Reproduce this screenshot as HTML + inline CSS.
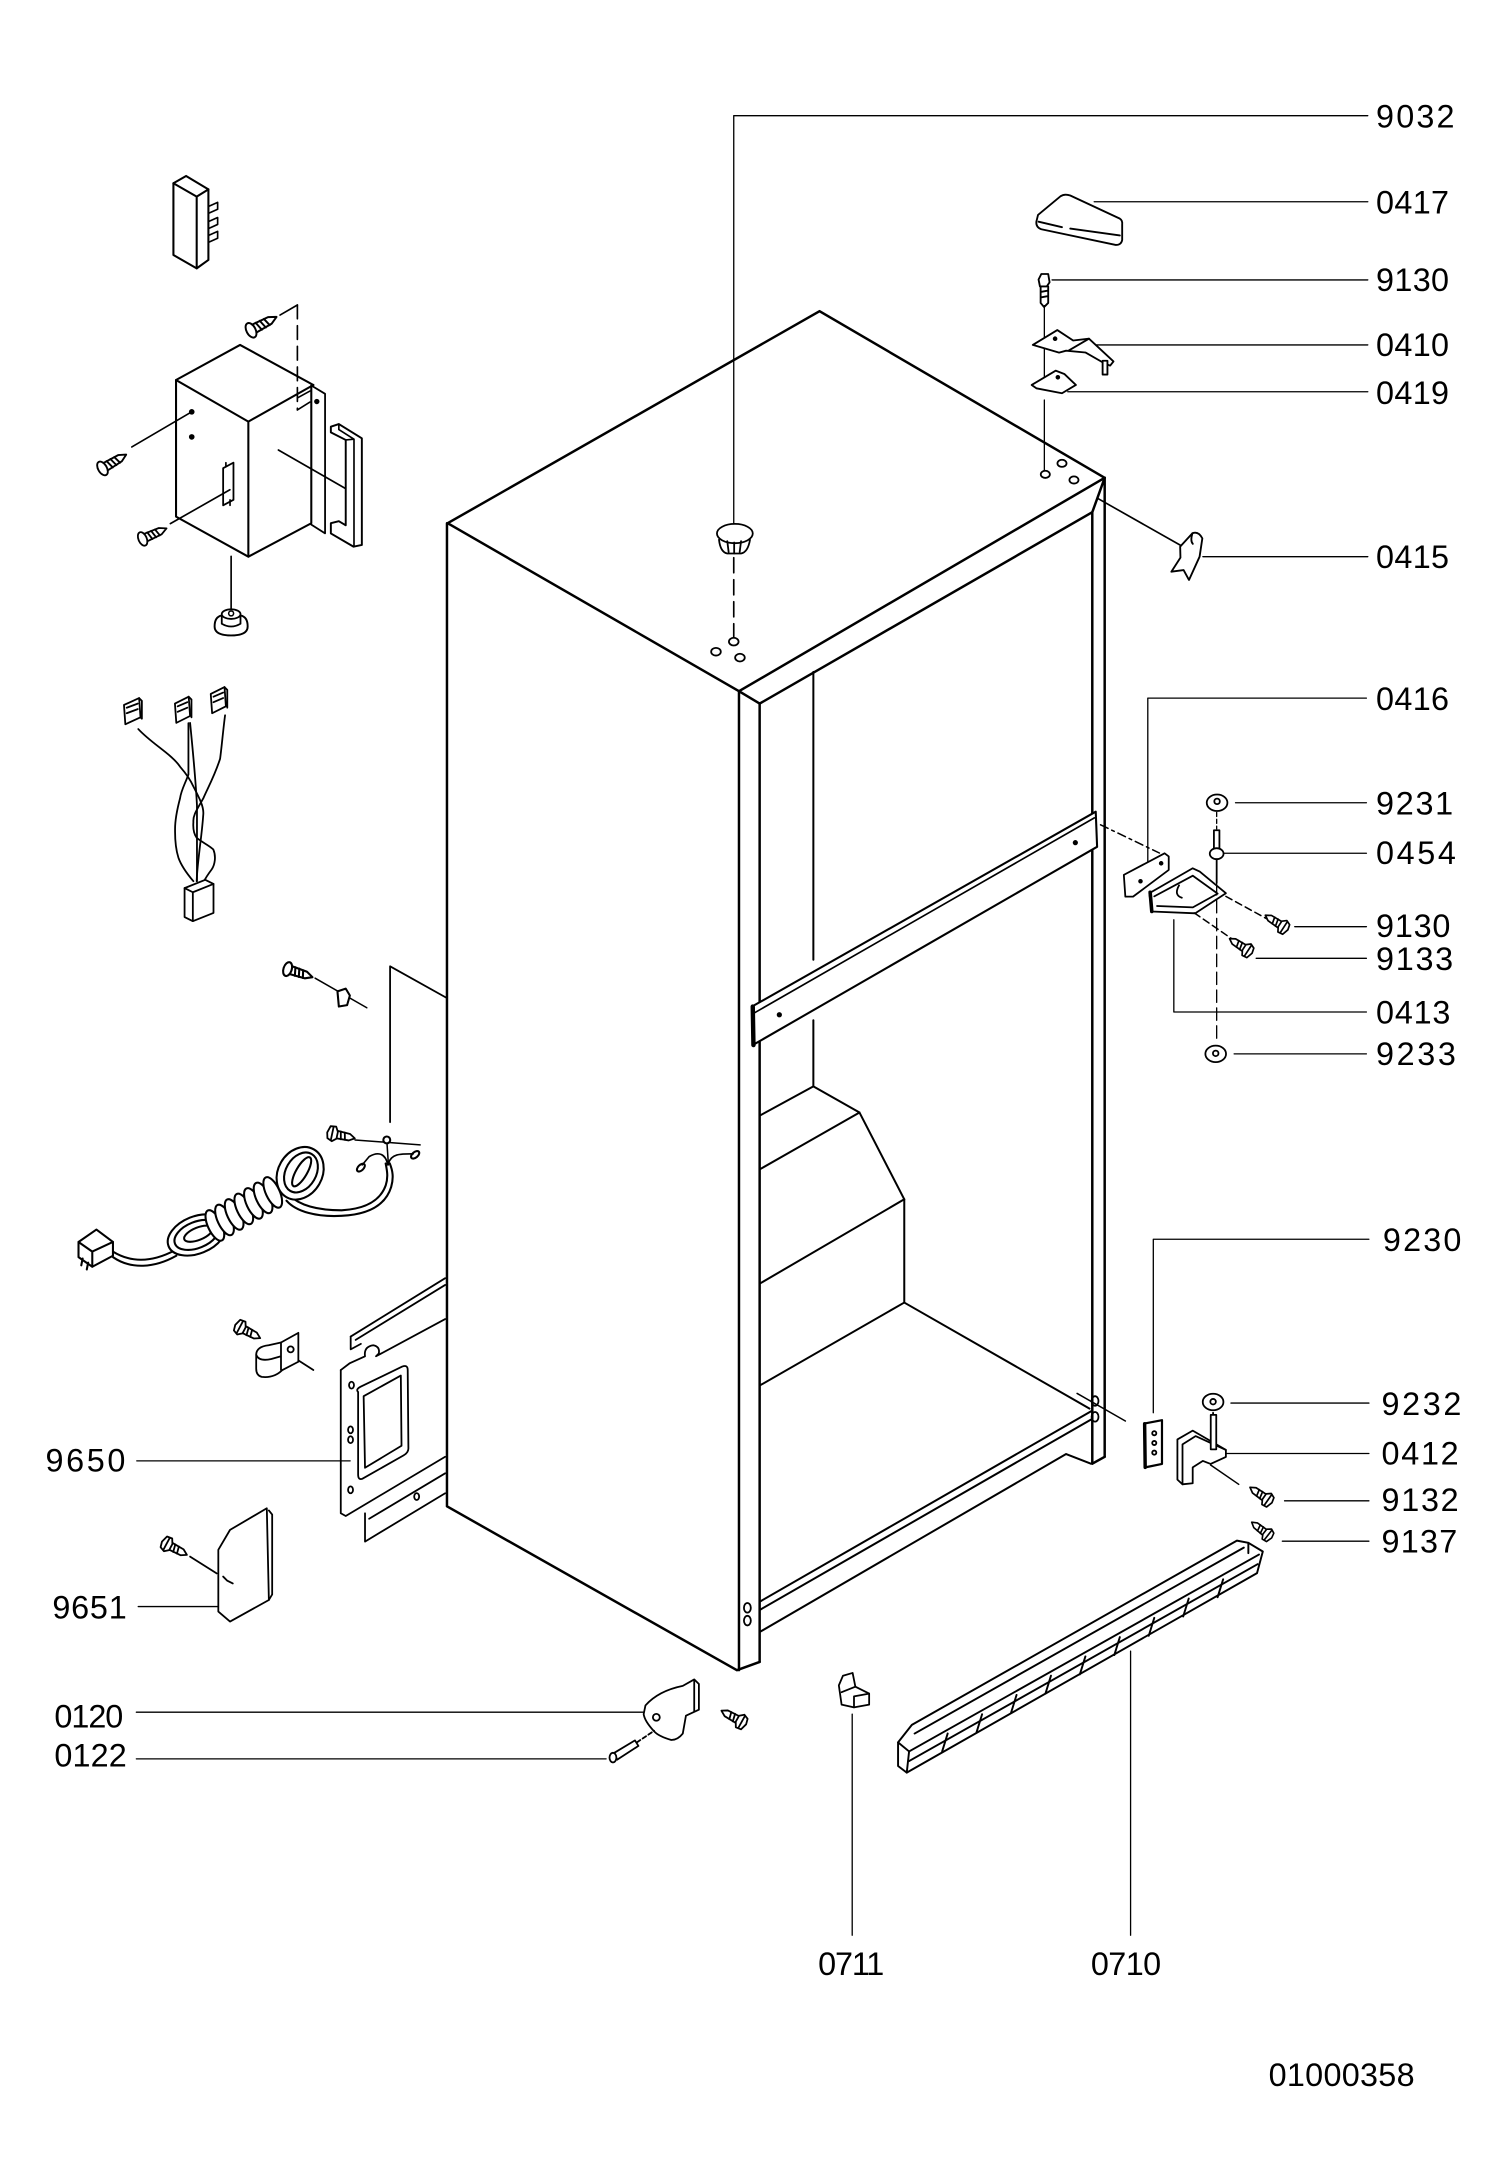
<!DOCTYPE html>
<html><head><meta charset="utf-8"><title>Exploded parts diagram 01000358</title>
<style>
html,body{margin:0;padding:0;background:#fff;width:1500px;height:2159px;overflow:hidden;}
svg{display:block;}
text{font-family:"Liberation Sans",sans-serif;font-size:23.5px;fill:#000;stroke:none;}
</style></head><body>
<svg xmlns="http://www.w3.org/2000/svg" width="1500" height="2159" viewBox="0 0 1089 1568" preserveAspectRatio="none">
<defs>
<g id="sc"><path d="M4,-3 L16,-2.5 L21,0 L16,2.5 L4,3 Z" fill="#fff"/><path d="M7,-3 L8.5,3 M10,-2.9 L11.5,2.9 M13,-2.7 L14.5,2.7" fill="none"/><ellipse cx="2" cy="0" rx="3" ry="5.2" fill="#fff"/></g>
<g id="hx"><path d="M4,-2.8 L14,-2.4 L18,0 L14,2.4 L4,2.8 Z" fill="#fff"/><path d="M7,-2.8 L8.2,2.8 M10,-2.6 L11.2,2.6" fill="none"/><path d="M-1,-5 L3,-5.5 L5,-2 L5,3 L2,5.5 L-1.5,4 L-2.5,0 Z" fill="#fff"/><path d="M1.2,-5 L1.2,5" fill="none"/></g>
</defs>
<g fill="none" stroke="#000" stroke-linejoin="round" stroke-linecap="round">

<!-- ===== Cabinet ===== -->
<g stroke-width="1.8">
<polygon points="325,380 595,226 802,347 536.5,502"/>
<polyline points="324.5,380 324.5,1094 535,1213 551.5,1207"/>
<line x1="536.5" y1="502" x2="536.5" y2="1213"/>
<line x1="551.5" y1="511" x2="551.5" y2="1207"/>
<polyline points="536.5,502 551.5,511 793,372 802,347"/>
<line x1="802" y1="347" x2="802" y2="1058"/>
<line x1="793" y1="372" x2="793" y2="1063"/>
<line x1="793" y1="1063" x2="802" y2="1058"/>
</g>
<g stroke-width="1.45">
<line x1="590.5" y1="488" x2="590.5" y2="697"/>
<line x1="590.5" y1="741" x2="590.5" y2="789"/>
<polyline points="552,810 590.5,789 624,808 656.5,871 656.5,946 791,1023"/>
<line x1="624" y1="808" x2="552" y2="849"/>
<line x1="656.5" y1="871" x2="552" y2="932"/>
<line x1="656.5" y1="946" x2="552" y2="1006"/>
<line x1="552" y1="1163" x2="792" y2="1025"/>
<line x1="552" y1="1169" x2="792" y2="1031"/>
<polyline points="552,1185 774,1056 792,1063"/>
</g>
<!-- mullion -->
<polygon points="795.5,589.5 796.5,615 546.5,759 546,731" fill="#fff" stroke-width="1.5"/>
<line x1="794.5" y1="594" x2="547" y2="736" stroke-width="1.2"/>
<line x1="546.5" y1="731" x2="547" y2="759" stroke-width="3.2"/>
<circle cx="780.7" cy="612" r="1.4" fill="#000"/>
<circle cx="565.8" cy="737" r="1.4" fill="#000"/>
<!-- holes -->
<g stroke-width="1.3">
<ellipse cx="532.7" cy="466" rx="3.5" ry="2.8"/>
<ellipse cx="519.8" cy="473.3" rx="3.5" ry="2.8"/>
<ellipse cx="537.2" cy="477.6" rx="3.5" ry="2.8"/>
<ellipse cx="758.9" cy="344.5" rx="3.3" ry="2.6"/>
<ellipse cx="771" cy="336.5" rx="3.3" ry="2.6"/>
<ellipse cx="779.7" cy="348.6" rx="3.3" ry="2.6"/>
<ellipse cx="795" cy="1017.5" rx="2.5" ry="3.5"/>
<ellipse cx="795" cy="1029" rx="2.5" ry="3.5"/>
<ellipse cx="542.6" cy="1167.7" rx="2.5" ry="3.5"/>
<ellipse cx="542.6" cy="1177" rx="2.5" ry="3.5"/>
</g>

<!-- ===== Leader lines ===== -->
<g stroke-width="0.95">
<polyline points="993,84 532.7,84 532.7,380.5"/>
<line x1="794.4" y1="146.5" x2="993" y2="146.5"/>
<line x1="763.8" y1="203.3" x2="993" y2="203.3"/>
<line x1="790.6" y1="250.5" x2="993" y2="250.5"/>
<line x1="775.2" y1="284.5" x2="993" y2="284.5"/>
<line x1="873.3" y1="404.3" x2="993" y2="404.3"/>
<polyline points="992,507 833.3,507 833.3,629"/>
<line x1="897" y1="583" x2="992" y2="583"/>
<line x1="889" y1="619.7" x2="992" y2="619.7"/>
<line x1="940" y1="673" x2="992" y2="673"/>
<line x1="912" y1="696" x2="992" y2="696"/>
<polyline points="992,735 852.2,735 852.2,668"/>
<line x1="896" y1="765.4" x2="992" y2="765.4"/>
<polyline points="993.8,900 837.3,900 837.3,1026"/>
<line x1="893.7" y1="1019" x2="993.8" y2="1019"/>
<line x1="890" y1="1055.6" x2="993.8" y2="1055.6"/>
<line x1="932.6" y1="1090" x2="993.8" y2="1090"/>
<line x1="931" y1="1119.3" x2="993.8" y2="1119.3"/>
<line x1="820.8" y1="1199.2" x2="820.8" y2="1405.5"/>
<line x1="618.7" y1="1244.9" x2="618.7" y2="1405.5"/>
<line x1="99.3" y1="1061" x2="254.2" y2="1061"/>
<line x1="100.4" y1="1166.8" x2="168.2" y2="1166.8"/>
<line x1="99" y1="1243.5" x2="467" y2="1243.5"/>
<line x1="99" y1="1277.4" x2="440" y2="1277.4"/>
</g>

<!-- ===== 9032 plug ===== -->
<g stroke-width="1.3">
<path d="M522,392 Q523,401 528,402 L538,402 Q543,401 544.5,392" fill="#fff"/>
<ellipse cx="533.5" cy="387.5" rx="13" ry="7" fill="#fff"/>
<path d="M528,393 L529,401 M533,394 L533,402 M538,393 L537,401"/>
</g>
<line x1="532.7" y1="405" x2="532.7" y2="463" stroke-width="1.2" stroke-dasharray="11 5"/>

<!-- ===== top-right parts ===== -->
<g stroke-width="1.35">
<path d="M753.6,156.1 L770,142.5 Q773,140.5 777,142 L813,158.8 Q815,160 814.7,163 L814.7,174.3 Q814,178 810,177.9 L756,166.5 Q752,165 752.4,161 Z" fill="#fff"/>
<path d="M754,161 L771,165 M777,166 L813,171"/>
<line x1="797" y1="362" x2="857" y2="396" stroke-width="1.2"/>
<line x1="758.2" y1="222" x2="758.2" y2="281" stroke-width="0.95"/>
<line x1="758.2" y1="290.5" x2="758.2" y2="342" stroke-width="0.95"/>
<path d="M749.8,250.5 L767.6,239.7 L779.1,247.3 L790.6,246 L808.4,262.5 L806,265.5 L802,264 L788,256 L774,254.7 L768.9,256.1 Z" fill="#fff"/>
<path d="M776,254.5 L790.6,246" />
<rect x="800.5" y="262" width="3.5" height="10" fill="#fff"/>
<circle cx="766" cy="246" r="1" fill="#000"/>
<path d="M749,279.6 L766.4,269.2 L772.7,271.6 L781.1,279.6 L771,285.6 L752.4,282 Z" fill="#fff"/>
<circle cx="768" cy="274" r="1" fill="#000"/>
<path d="M754,203 L756,199 L761,199 L762,205 L760,208 L755,208 Z" fill="#fff"/>
<path d="M755.5,208 L755.5,220 L758,223 L761,220 L761,208 M755.5,212 L761,211 M755.5,216 L761,215"/>
<path d="M856.8,397 L865.7,387.3 Q870,385.5 872.9,391 L870.9,404.3 L863.2,421.2 L859.3,414 L850.4,415.2 L857,405 Z" fill="#fff"/>
<path d="M865.7,387.3 Q864,393 866,395"/>
</g>

<!-- ===== upper hinge group ===== -->
<line x1="799" y1="599" x2="841.7" y2="619.5" stroke-width="1.1" stroke-dasharray="6 3 2 3"/>
<g stroke-width="1.3">
<path d="M815.9,635.4 L845.5,619.7 L848.5,622 L848.5,631.8 L822.6,651.2 L817,651.2 Z" fill="#fff"/>
<circle cx="843" cy="627" r="1" fill="#000"/><circle cx="828" cy="640" r="1" fill="#000"/>
<path d="M834.4,648.7 L865.9,630.6 L871,633 L890,648.7 L867.8,663.3 L836.2,662 Z" fill="#fff"/>
<path d="M838,651 L866,636 L884,649 L866,659 L840,658"/>
<path d="M856,643 Q852,650 858,652"/>
<line x1="835" y1="648" x2="836.2" y2="662" stroke-width="2.6"/>
<line x1="890" y1="651" x2="921" y2="668" stroke-width="1.1" stroke-dasharray="5 3"/>
<line x1="867" y1="663" x2="896" y2="683" stroke-width="1.1" stroke-dasharray="5 3"/>
<line x1="883.3" y1="641" x2="883.3" y2="758" stroke-width="0.95" stroke-dasharray="9 4"/>
<line x1="883.3" y1="590" x2="883.3" y2="602" stroke-width="0.95" stroke-dasharray="3 2"/>
<rect x="881.3" y="603" width="4" height="14" fill="#fff"/>
<ellipse cx="883.3" cy="620" rx="5" ry="4" fill="#fff"/>
<line x1="883.3" y1="624" x2="883.3" y2="641"/>
<ellipse cx="883.6" cy="583" rx="7.5" ry="6" fill="#fff"/>
<circle cx="883.6" cy="582" r="2"/>
<ellipse cx="882.6" cy="765.4" rx="7.5" ry="6" fill="#fff"/>
<circle cx="882.6" cy="765" r="2"/>
<use href="#hx" transform="translate(933,674) rotate(213) scale(0.95)"/>
<use href="#hx" transform="translate(907,691) rotate(213) scale(0.95)"/>
</g>

<!-- ===== lower hinge group ===== -->
<g stroke-width="1.3">
<line x1="782" y1="1012" x2="817" y2="1032" stroke-width="1.1"/>
<path d="M830.7,1033.9 L843.6,1031.4 L843.6,1063.2 L831.4,1065.7 Z" fill="#fff" stroke-width="1.6"/>
<line x1="831" y1="1034" x2="831.4" y2="1065.7" stroke-width="2.5"/>
<circle cx="838" cy="1040.9" r="1.5"/><circle cx="838" cy="1048" r="1.5"/><circle cx="838" cy="1055" r="1.5"/>
<path d="M854.8,1045.4 L865.9,1039 L890,1053 L890,1058.1 L878.9,1063.2 L873.3,1061 L865.9,1065.7 L865.9,1077.2 L858.5,1078 L854.8,1074.6 Z" fill="#fff"/>
<path d="M858.5,1049 L858.5,1078 M858.5,1049 L868,1043 L890,1053"/>
<rect x="879" y="1027.6" width="4" height="25" fill="#fff"/>
<line x1="880.7" y1="1022" x2="880.7" y2="1027" stroke-dasharray="2 2"/>
<ellipse cx="880.7" cy="1018.2" rx="7.5" ry="6" fill="#fff"/>
<circle cx="880.7" cy="1018" r="2"/>
<line x1="878.9" y1="1064" x2="899.3" y2="1078" stroke-width="1.1"/>
<use href="#hx" transform="translate(921.5,1090) rotate(215) scale(0.95)"/>
<use href="#hx" transform="translate(921.5,1115.5) rotate(218) scale(0.9)"/>
</g>

<!-- ===== 0710 kick plate ===== -->
<g stroke-width="1.4">
<path d="M652,1265.4 L662,1252.7 L898,1118.9 L906.3,1120.5 L916.8,1126.8 L912.6,1142.5 L658.3,1287.4 L652,1282.6 Z" fill="#fff"/>
<line x1="664" y1="1259" x2="903" y2="1124"/>
<line x1="660" y1="1272" x2="914" y2="1129"/>
<line x1="660" y1="1279" x2="913" y2="1136"/>
<path d="M906.3,1120.5 L906.3,1128 M652,1265.4 L660,1272 L658.3,1287.4"/>
<path d="M688,1259 L684,1272 M713,1245 L709,1258 M738,1231 L734,1244 M763,1217 L759,1230 M788,1203 L784,1216 M813,1189 L809,1202 M838,1175 L834,1188 M863,1161 L859,1174 M888,1147 L884,1160"/>
</g>

<!-- ===== 0711 clip, 0120, 0122 ===== -->
<g stroke-width="1.3">
<path d="M609,1224 L612,1217 L619,1215 L621,1225 L631,1230 L631,1238 L620,1240 L611,1238 Z" fill="#fff"/>
<path d="M611,1229 L621,1225 M620,1240 L620,1232 L631,1230"/>
<path d="M468.6,1238.6 Q478,1228 495.7,1224.4 L504,1219.7 L507.4,1223 L507.4,1241.7 L498,1246 L495.7,1259 Q492,1263.7 487.4,1263.7 Q478,1261 474.9,1257.4 Q468,1250 467.3,1244.9 Z" fill="#fff"/>
<line x1="504" y1="1220" x2="504" y2="1243"/>
<circle cx="476.5" cy="1247.2" r="2.5"/>
<line x1="462.4" y1="1265.4" x2="474.9" y2="1257" stroke-dasharray="3 2"/>
<path d="M446,1273 L461,1264 L463.5,1268 L448,1278 Z" fill="#fff"/>
<ellipse cx="445" cy="1276.5" rx="2.5" ry="3.5" fill="#fff"/>
<use href="#hx" transform="translate(539.5,1251.1) rotate(209)"/>
</g>

<!-- ===== 9650 plate & 9651 ===== -->
<g stroke-width="1.3">
<line x1="254.6" y1="970.7" x2="323.2" y2="928.3"/>
<line x1="258.2" y1="973.1" x2="323.2" y2="933.2"/>
<path d="M254.6,970.7 L254.6,980 L262,976"/>
<path d="M247.4,995 L254,990 L265,985 Q264,978 271,977 Q276,978 275,983 L273,985 L323.2,958"/>
<path d="M247.4,995 L247.4,1099 L251,1101 L323.2,1058"/>
<path d="M265,1099 L265,1119.6 L323.2,1084.5 M268,1103 L323.2,1070"/>
<path d="M260,1011 Q258,1009 262,1007 L292,992.5 Q296,991 296,995 L296.5,1052 Q296.5,1055 293,1057 L263,1074 Q260,1075 260,1071 Z"/>
<path d="M264,1014 L291,999 L291.5,1050 L265,1066 Z"/>
<ellipse cx="255.2" cy="1006" rx="1.8" ry="2.5"/>
<ellipse cx="254.5" cy="1038.4" rx="1.8" ry="2.5"/>
<ellipse cx="254.5" cy="1045.6" rx="1.8" ry="2.5"/>
<ellipse cx="254.5" cy="1082" rx="1.8" ry="2.5"/>
<ellipse cx="302.5" cy="1086.9" rx="1.8" ry="2.5"/>
<path d="M158.5,1125.6 L167,1111.1 L193.7,1095.4 L195.2,1162 L167,1177.7 L158.5,1170.4 Z" fill="#fff"/>
<path d="M195.2,1097 L197.6,1100 L197.6,1158 L195.2,1162"/>
<line x1="138" y1="1130.5" x2="157.3" y2="1142.7"/>
<path d="M162,1145 L165,1148 L169,1150"/>
<use href="#hx" transform="translate(119.8,1120.8) rotate(28)"/>
<path d="M186,984 Q186,978 195,977 L204,975 L216.6,968 L216.6,989 L205,995 Q199,1001 190,1000 Q186,999 186,994 Z" fill="#fff"/>
<path d="M186,984 Q188,989 197,987 L204,985 M204,975 L204,995"/>
<circle cx="211" cy="980" r="2.2"/>
<line x1="216.6" y1="988" x2="227.5" y2="995"/>
<use href="#hx" transform="translate(173,963.4) rotate(28)"/>
</g>

<!-- ===== power cord ===== -->
<g stroke-width="1.5">
<polyline points="283.2,815 283.2,701.8 324.4,724.8" stroke-width="1.3"/>
<line x1="228.8" y1="710.4" x2="266.3" y2="731.9" stroke-width="1.1"/>
<path d="M245,720 L251,718 L254,723 L252,730 L246,731 Z" fill="#fff"/>
<use href="#sc" transform="translate(206.9,703.2) rotate(18)"/>
<path d="M82,909 C95,917 110,917 127,908" />
<path d="M82,913 C95,922 112,921 128,912" />
<path d="M57,902 L70,893 L82,902 L82,912 L67,920 L57,913 Z" fill="#fff"/>
<path d="M57,902 L67,909 L82,902 M67,909 L67,920 M60,914 L59,919 M64,917 L63,922"/>
<ellipse cx="142.8" cy="896.9" rx="22" ry="13.5" transform="rotate(-22 142.8 896.9)" fill="#fff"/>
<ellipse cx="142.8" cy="896.9" rx="17" ry="9.5" transform="rotate(-22 142.8 896.9)"/>
<ellipse cx="144" cy="896" rx="11" ry="4.5" transform="rotate(-22 144 896)"/>
<ellipse cx="156" cy="890" rx="5" ry="12" transform="rotate(-25 156 890)" fill="#fff"/>
<ellipse cx="163" cy="886" rx="5" ry="12" transform="rotate(-25 163 886)" fill="#fff"/>
<ellipse cx="170" cy="882" rx="5" ry="12" transform="rotate(-25 170 882)" fill="#fff"/>
<ellipse cx="177" cy="878" rx="5" ry="12" transform="rotate(-25 177 878)" fill="#fff"/>
<ellipse cx="184" cy="874" rx="5" ry="12" transform="rotate(-25 184 874)" fill="#fff"/>
<ellipse cx="191" cy="870" rx="5" ry="12" transform="rotate(-25 191 870)" fill="#fff"/>
<ellipse cx="198" cy="866" rx="5" ry="12" transform="rotate(-25 198 866)" fill="#fff"/>
<path d="M208,872 C215,880 230,884 248,883 C268,882 280,875 284,862 C286,855 285,850 283,845" />
<path d="M210,868 C218,876 232,879 248,879 C265,878 276,872 280,861 C282,855 281,850 280,845" />
<ellipse cx="217.9" cy="852.1" rx="16" ry="20" transform="rotate(30 217.9 852.1)" fill="#fff"/>
<ellipse cx="218.5" cy="851.5" rx="11" ry="15.5" transform="rotate(30 218.5 851.5)"/>
<ellipse cx="219" cy="851" rx="4" ry="12" transform="rotate(30 219 851)"/>
<path d="M281.5,846 C280,838 275,836 268,840 L263,846 M282,845 C284,838 290,838 300,838" stroke-width="1.2"/>
<ellipse cx="262" cy="848" rx="3.5" ry="2" transform="rotate(-45 262 848)"/>
<ellipse cx="301.4" cy="838.7" rx="3.5" ry="2" transform="rotate(-40 301.4 838.7)"/>
<line x1="257.8" y1="827.9" x2="305" y2="831.5" stroke-width="1.1"/>
<line x1="280.8" y1="828" x2="282" y2="846" stroke-width="1.1"/>
<circle cx="280.8" cy="827.9" r="2.5" fill="#fff"/>
<use href="#hx" transform="translate(240,823) rotate(12)" stroke-width="1.3"/>
</g>

<!-- ===== wiring harness ===== -->
<g stroke-width="1.3">
<path d="M100.4,529.5 C110,540 125,548 130.7,556.8 C137,564 139,568 140.4,571.2 C145,580 148,586 147.6,591.3 C147,600 146,608 145.2,614.2 C144,625 143,632 142.8,640"/>
<path d="M136.8,525.2 L136.8,562.5 C134,570 131.5,574 130.7,579.8 C128,590 127,597 127.1,602.8 C127,612 128,618 129.5,622.8 C132,630 137,636 140.4,640"/>
<path d="M163.4,519.5 C162,530 161,542 159.8,551 C156,563 151,572 147.6,579.8 C143,588 140,592 140.4,597 C140,602 141,606 142.8,608.5 C147,612 152,614 154.9,617 C157,622 156,628 153.7,631.4 C151,635 149,638 147.6,641"/>
<path d="M138,525 C140,545 142,565 143,585 C143,600 143,620 143,640"/>
<path d="M90,512 L101,507 L102,521 L91,526 Z" fill="#fff"/>
<path d="M92,514 L100,511 M92,518 L100,515 M101,507 L103,509 L103,522 L102,521"/>
<path d="M127,511 L137,506 L138,520 L128,525 Z" fill="#fff"/>
<path d="M129,513 L136,510 M129,517 L136,514 M137,506 L139,508 L139,521"/>
<path d="M153,504 L163,499 L164,513 L154,518 Z" fill="#fff"/>
<path d="M155,506 L162,503 M155,510 L162,507 M163,499 L165,501 L165,514"/>
<path d="M134,645 L149,639 L155,642 L155,663 L140,669 L134,666 Z" fill="#fff"/>
<path d="M134,645 L140,648 L155,642 M140,648 L140,669"/>
</g>

<!-- ===== relay box group ===== -->
<g stroke-width="1.5">
<path d="M125.9,133.1 L135.1,127.8 L151.3,137.5 L151.3,188.8 L142.8,194.9 L125.9,185.2 Z" fill="#fff"/>
<path d="M125.9,133.1 L142.8,142.8 L151.3,137.5 M142.8,142.8 L142.8,194.9"/>
<path d="M151.3,150 L158,147 L158,152 L151.3,155 M151.3,161 L158,158 L158,163 L151.3,166 M151.3,171 L158,168 L158,173 L151.3,176" stroke-width="1.2"/>
<path d="M127.8,276 L174.3,250.5 L227.5,279.6 L226,280 L226,380 L180.3,404.3 L127.8,375.2 Z" fill="#fff"/>
<path d="M127.8,276 L180.3,306.2 L227.5,279.6 M180.3,306.2 L180.3,404.3"/>
<path d="M226,280 L236,286 L236,387.4 L226,381" stroke-width="1.3"/>
<line x1="215.9" y1="221.5" x2="215.9" y2="297.7" stroke-width="1.2" stroke-dasharray="10 5"/>
<path d="M215.9,297.7 L225,292 M215.9,289 L225,284" stroke-width="1.2"/>
<circle cx="230" cy="291.6" r="1.2" fill="#000"/>
<path d="M240.2,309.9 L246,308 L262.7,318.3 L262.7,395.8 L256.6,397 L240.2,387.4 L240.2,380 L246,378.5 L251,381.5 L251,319.5 L240.2,314 Z" fill="#fff" stroke-width="1.4"/>
<path d="M246,308 L246,312 L257,319 L257,397 M251,319.5 L257,319" stroke-width="1.2"/>
<line x1="202.1" y1="326.8" x2="250.5" y2="354.6" stroke-width="1.2"/>
<path d="M162,340 L169.5,336 L169.5,363 L162,367 Z" fill="#fff" stroke-width="1.3"/>
<path d="M164,336 L164,339 M167,363 L167,367" stroke-width="1.2"/>
<circle cx="139.2" cy="299.1" r="1.3" fill="#000"/>
<circle cx="139.2" cy="317.3" r="1.3" fill="#000"/>
<line x1="95.7" y1="324.6" x2="139.2" y2="299.1" stroke-width="1.2"/>
<line x1="123.7" y1="380.3" x2="166.9" y2="355.7" stroke-width="1.2"/>
<line x1="203.3" y1="228.8" x2="215.9" y2="221.5" stroke-width="1.2"/>
<line x1="167.8" y1="404" x2="167.8" y2="444" stroke-width="1.2"/>
<path d="M155.8,455 Q155.8,448 161,447 L174.6,447 Q179.8,448 179.8,455 Q179.8,461.5 167.8,461.5 Q155.8,461.5 155.8,455 Z" fill="#fff" stroke-width="1.4"/>
<path d="M161,447 L161,453 Q167.8,457 174.6,453 L174.6,447" stroke-width="1.3"/>
<ellipse cx="167.8" cy="446" rx="6.8" ry="3.5" fill="#fff" stroke-width="1.3"/>
<circle cx="167.8" cy="445.5" r="1.8" stroke-width="1.1"/>
</g>
<g stroke-width="1.3">
<use href="#sc" transform="translate(72.6,341.3) rotate(-30.4) scale(1.05)"/>
<use href="#sc" transform="translate(101.7,392.2) rotate(-23.8)"/>
<use href="#sc" transform="translate(180.3,240.9) rotate(-27.7) scale(1.1)"/>
</g>
</g>

<!-- ===== Labels ===== -->
<g>
<text x="999" y="92.5" textLength="57" lengthAdjust="spacing">9032</text>
<text x="999" y="155" textLength="53" lengthAdjust="spacing">0417</text>
<text x="999" y="211.5" textLength="53" lengthAdjust="spacing">9130</text>
<text x="999" y="258.5" textLength="53" lengthAdjust="spacing">0410</text>
<text x="999" y="293.5" textLength="53" lengthAdjust="spacing">0419</text>
<text x="999" y="412.5" textLength="53" lengthAdjust="spacing">0415</text>
<text x="999" y="515.5" textLength="53" lengthAdjust="spacing">0416</text>
<text x="999" y="591.5" textLength="56" lengthAdjust="spacing">9231</text>
<text x="999" y="627.5" textLength="58" lengthAdjust="spacing">0454</text>
<text x="999" y="680.5" textLength="54" lengthAdjust="spacing">9130</text>
<text x="999" y="704.5" textLength="56" lengthAdjust="spacing">9133</text>
<text x="999" y="743.5" textLength="54" lengthAdjust="spacing">0413</text>
<text x="999" y="773.5" textLength="58" lengthAdjust="spacing">9233</text>
<text x="1004" y="908.5" textLength="57" lengthAdjust="spacing">9230</text>
<text x="1003" y="1027.5" textLength="58" lengthAdjust="spacing">9232</text>
<text x="1003" y="1063.5" textLength="56" lengthAdjust="spacing">0412</text>
<text x="1003" y="1097.5" textLength="56" lengthAdjust="spacing">9132</text>
<text x="1003" y="1127.5" textLength="55" lengthAdjust="spacing">9137</text>
<text x="33" y="1068.8" textLength="58" lengthAdjust="spacing">9650</text>
<text x="38" y="1175.5" textLength="54" lengthAdjust="spacing">9651</text>
<text x="39.5" y="1254.5" textLength="50" lengthAdjust="spacing">0120</text>
<text x="39.5" y="1283" textLength="52.5" lengthAdjust="spacing">0122</text>
<text x="594" y="1434.5" textLength="48" lengthAdjust="spacing">0711</text>
<text x="792" y="1434.5" textLength="51" lengthAdjust="spacing">0710</text>
<text x="921" y="1515" textLength="106" lengthAdjust="spacing">01000358</text>
</g>
</svg>
</body></html>
